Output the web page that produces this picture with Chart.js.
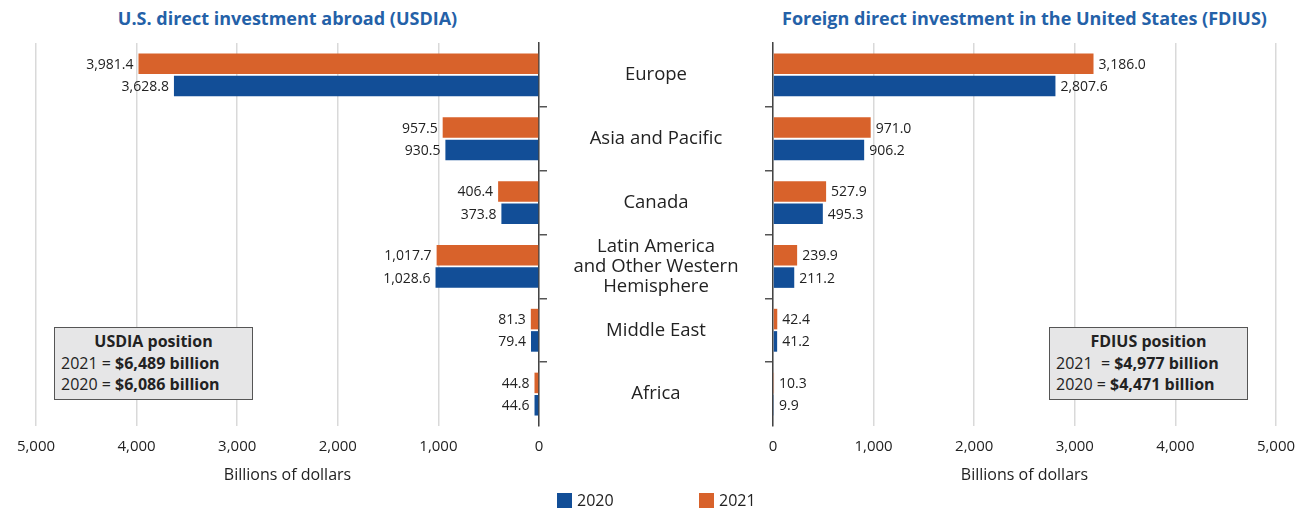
<!DOCTYPE html>
<html>
<head>
<meta charset="utf-8">
<script src="https://cdn.jsdelivr.net/npm/chart.js@4/dist/chart.umd.min.js"></script>
<style>
  html, body { margin: 0; padding: 0; background: #fff; }
  body { width: 1308px; height: 512px; position: relative; overflow: hidden; font-family: "Open Sans", "DejaVu Sans", sans-serif; color: #222; }
  .wrap { position: absolute; top: 0; height: 512px; }
  #leftWrap { left: 0; width: 560px; }
  #rightWrap { left: 560px; width: 748px; }
  .title { position: absolute; top: 5px; font-weight: 700; font-size: 18px; line-height: 26px; color: #2461a8; text-align: center; white-space: nowrap; }
  .box { position: absolute; top: 327px; width: 199px; height: 73px; box-sizing: border-box; border: 1.5px solid #555; background: #e6e6e7; font-size: 16px; line-height: 21.5px; padding: 3px 0 0 6px; white-space: nowrap; }
  .box .hd { font-weight: 700; text-align: center; margin-left: -6px; }
  .box b { font-weight: 700; }
  .legend { position: absolute; top: 491px; font-size: 16px; line-height: 19px; display: flex; align-items: center; white-space: nowrap; }
  .sw { display: inline-block; width: 15px; height: 15px; margin-right: 5px; }
</style>
</head>
<body>
<div class="title" style="left:36px;width:503px;">U.S. direct investment abroad (USDIA)</div>
<div class="title" style="left:773px;width:503px;">Foreign direct investment in the United States (FDIUS)</div>

<div class="wrap" id="leftWrap"><canvas id="left"></canvas></div>
<div class="wrap" id="rightWrap"><canvas id="right"></canvas></div>

<div class="box" style="left:54px;">
  <div class="hd">USDIA position</div>
  <div>2021 = <b>$6,489 billion</b></div>
  <div>2020 = <b>$6,086 billion</b></div>
</div>
<div class="box" style="left:1049px;">
  <div class="hd">FDIUS position</div>
  <div>2021&nbsp; = <b>$4,977 billion</b></div>
  <div>2020 = <b>$4,471 billion</b></div>
</div>

<div class="legend" style="left:557px;"><span class="sw" style="background:#124e97"></span>2020</div>
<div class="legend" style="left:699px;"><span class="sw" style="background:#d8622b"></span>2021</div>

<script>
// ---- Data ----
const categories = ['Europe', 'Asia and Pacific', 'Canada', ['Latin America', 'and Other Western', 'Hemisphere'], 'Middle East', 'Africa'];
const usdia2021 = [3981.4, 957.5, 406.4, 1017.7, 81.3, 44.8];
const usdia2020 = [3628.8, 930.5, 373.8, 1028.6, 79.4, 44.6];
const fdius2021 = [3186.0, 971.0, 527.9, 239.9, 42.4, 10.3];
const fdius2020 = [2807.6, 906.2, 495.3, 211.2, 41.2, 9.9];
const xTicks = [0, 1000, 2000, 3000, 4000, 5000];
const seriesLabels = ['2021', '2020'];

// ---- Styles ----
const ORANGE = '#d8622b';
const BLUE = '#124e97';
const FONT = '"Open Sans", "DejaVu Sans", sans-serif';
const TEXT = '#222';

const fmt = v => v.toLocaleString('en-US', { minimumFractionDigits: 1, maximumFractionDigits: 1 });

const valueLabels = {
  id: 'valueLabels',
  afterDatasetsDraw(chart, args, opts) {
    const ctx = chart.ctx;
    ctx.save();
    ctx.font = '14px ' + FONT;
    ctx.fillStyle = TEXT;
    ctx.textBaseline = 'middle';
    chart.data.datasets.forEach((ds, di) => {
      const meta = chart.getDatasetMeta(di);
      meta.data.forEach((el, i) => {
        const txt = fmt(ds.data[i]);
        if (opts.side === 'left') {
          ctx.textAlign = 'right';
          ctx.fillText(txt, el.x - 5, el.y + 1);
        } else {
          ctx.textAlign = 'left';
          ctx.fillText(txt, el.x + 5, el.y + 1);
        }
      });
    });
    ctx.restore();
  }
};

const categoryLabels = {
  id: 'categoryLabels',
  afterDraw(chart, args, opts) {
    if (!opts.enabled) return;
    const ctx = chart.ctx;
    const yScale = chart.scales.y;
    ctx.save();
    ctx.font = '18.5px ' + FONT;
    ctx.fillStyle = TEXT;
    ctx.textAlign = 'center';
    ctx.textBaseline = 'middle';
    categories.forEach((c, i) => {
      const lines = Array.isArray(c) ? c : [c];
      const yc = yScale.getPixelForValue(i);
      const lh = 20;
      lines.forEach((ln, k) => {
        ctx.fillText(ln, opts.x, yc + (k - (lines.length - 1) / 2) * lh);
      });
    });
    ctx.restore();
  }
};

function makeChart(id, d2021, d2020, side) {
  const isLeft = side === 'left';
  return new Chart(document.getElementById(id), {
    type: 'bar',
    data: {
      labels: categories,
      datasets: [
        { label: seriesLabels[0], data: d2021, backgroundColor: ORANGE, categoryPercentage: 0.7, barPercentage: 0.92 },
        { label: seriesLabels[1], data: d2020, backgroundColor: BLUE, categoryPercentage: 0.7, barPercentage: 0.92 }
      ]
    },
    options: {
      indexAxis: 'y',
      responsive: true,
      maintainAspectRatio: false,
      animation: false,
      layout: { padding: isLeft ? { left: 36, right: 13, top: 43, bottom: 26 } : { left: 205, right: 32, top: 43, bottom: 26 } },
      plugins: {
        legend: { display: false },
        tooltip: { enabled: false },
        valueLabels: { side },
        categoryLabels: { enabled: !isLeft, x: 96 }
      },
      scales: {
        x: {
          reverse: isLeft,
          min: 0, max: 5000,
          afterBuildTicks: s => { s.ticks = xTicks.map(v => ({ value: v })); },
          afterFit: s => { s.height = 60; },
          grid: { color: '#d9d9d9', lineWidth: 1.5, drawTicks: false },
          border: { display: false },
          ticks: {
            padding: 12,
            color: TEXT,
            font: { family: FONT, size: 15 },
            callback: v => v.toLocaleString('en-US')
          },
          title: {
            display: true,
            text: 'Billions of dollars',
            color: TEXT,
            font: { family: FONT, size: 16 },
            padding: { top: 0, bottom: 1 }
          }
        },
        y: {
          position: isLeft ? 'right' : 'left',
          afterFit: s => { s.width = 8; },
          grid: {
            offset: true,
            drawOnChartArea: false,
            drawTicks: true,
            tickLength: 8,
            lineWidth: 1.5,
            color: ctx => (ctx.type === 'tick' && ctx.index > 0) ? '#555' : 'rgba(0,0,0,0)'
          },
          border: { display: true, color: '#444', width: 1.5 },
          ticks: { display: false }
        }
      }
    },
    plugins: [valueLabels, categoryLabels]
  });
}

makeChart('left', usdia2021, usdia2020, 'left');
makeChart('right', fdius2021, fdius2020, 'right');
</script>
</body>
</html>
